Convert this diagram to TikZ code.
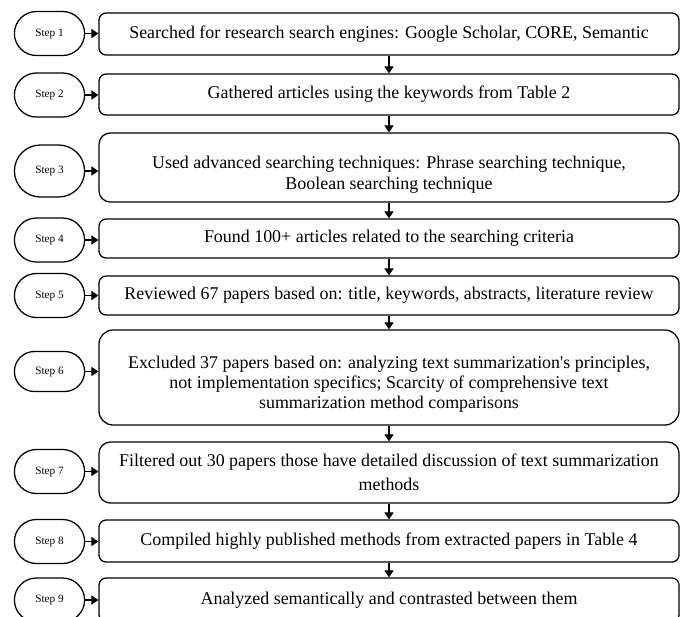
\documentclass[tikz,border=0pt]{standalone}
\usepackage{fontspec}
\setmainfont{Liberation Serif}
\usetikzlibrary{arrows.meta,positioning,shapes.misc}
\tikzset{
  stepoval/.style={draw, rounded rectangle, line width=0.9pt, font=\footnotesize,
                   minimum width=1.825cm, minimum height=#1, inner sep=1pt},
  taskbox/.style={draw, rounded corners=#1, line width=0.9pt,
                  font=\fontsize{12.75}{14.4}\selectfont,
                  minimum width=14.5cm, align=center, inner sep=2pt},
  flowarrow/.style={line width=0.9pt, -{Triangle[length=5pt,width=6.5pt]}},
}

\begin{document}
\begin{tikzpicture}

\useasboundingbox[fill=white] (0,0) rectangle (17.15,-15.4);

% --- Steps (left column) ---
\node[stepoval=1.1cm] (s1) at (1.2375,-0.8375) {Step 1};
\node[stepoval=1.1cm] (s2) at (1.2375,-2.375) {Step 2};
\node[stepoval=1.3cm] (s3) at (1.2375,-4.275) {Step 3};
\node[stepoval=1.1cm] (s4) at (1.2375,-6.0) {Step 4};
\node[stepoval=1.1cm] (s5) at (1.2375,-7.3875) {Step 5};
\node[stepoval=1.0cm] (s6) at (1.2375,-9.2875) {Step 6};
\node[stepoval=1.1cm] (s7) at (1.2375,-11.7875) {Step 7};
\node[stepoval=1.1cm] (s8) at (1.2375,-13.5375) {Step 8};
\node[stepoval=1.1cm] (s9) at (1.2375,-15.0) {Step 9};

% --- Tasks (right column) ---
\node[taskbox=5pt, minimum height=1.05cm] (b1) at (9.725,-0.85)
      {Searched for research search engines: Google Scholar, CORE, Semantic};
\node[taskbox=5pt, minimum height=1.025cm] (b2) at (9.725,-2.3625)
      {Gathered articles using the keywords from Table 2};
\node[taskbox=8pt, minimum height=1.725cm] (b3) at (9.725,-4.1875)
      {\rule{0pt}{19pt}Used advanced searching techniques: Phrase searching technique,\\ Boolean searching technique};
\node[taskbox=5pt, minimum height=0.975cm] (b4) at (9.725,-5.9625)
      {Found 100+ articles related to the searching criteria};
\node[taskbox=5pt, minimum height=0.975cm] (b5) at (9.725,-7.3875)
      {Reviewed 67 papers based on: title, keywords, abstracts, literature review};
\node[taskbox=10pt, minimum height=2.375cm] (b6) at (9.725,-9.4375)
      {\rule{0pt}{18pt}Excluded 37 papers based on: analyzing text summarization\textquotesingle s principles,\\
       not implementation specifics; Scarcity of comprehensive text\\
       summarization method comparisons};
\node[taskbox=8pt, minimum height=1.525cm] (b7) at (9.725,-11.8125)
      {Filtered out 30 papers those have detailed discussion of text summarization\\[3pt] methods};
\node[taskbox=5pt, minimum height=1.05cm] (b8) at (9.725,-13.525)
      {Compiled highly published methods from extracted papers in Table 4};
\node[taskbox=5pt, minimum height=1.1cm] (b9) at (9.725,-15.0)
      {Analyzed semantically and contrasted between them};

% Step -> task
\draw[flowarrow] (s1.east) -- (s1.east -| b1.west);
\draw[flowarrow] (s2.east) -- (s2.east -| b2.west);
\draw[flowarrow] (s3.east) -- (s3.east -| b3.west);
\draw[flowarrow] (s4.east) -- (s4.east -| b4.west);
\draw[flowarrow] (s5.east) -- (s5.east -| b5.west);
\draw[flowarrow] (s6.east) -- (s6.east -| b6.west);
\draw[flowarrow] (s7.east) -- (s7.east -| b7.west);
\draw[flowarrow] (s8.east) -- (s8.east -| b8.west);
\draw[flowarrow] (s9.east) -- (s9.east -| b9.west);

% Task -> next task
\draw[flowarrow] (b1.south) -- (b2.north);
\draw[flowarrow] (b2.south) -- (b3.north);
\draw[flowarrow] (b3.south) -- (b4.north);
\draw[flowarrow] (b4.south) -- (b5.north);
\draw[flowarrow] (b5.south) -- (b6.north);
\draw[flowarrow] (b6.south) -- (b7.north);
\draw[flowarrow] (b7.south) -- (b8.north);
\draw[flowarrow] (b8.south) -- (b9.north);

\end{tikzpicture}
\end{document}
